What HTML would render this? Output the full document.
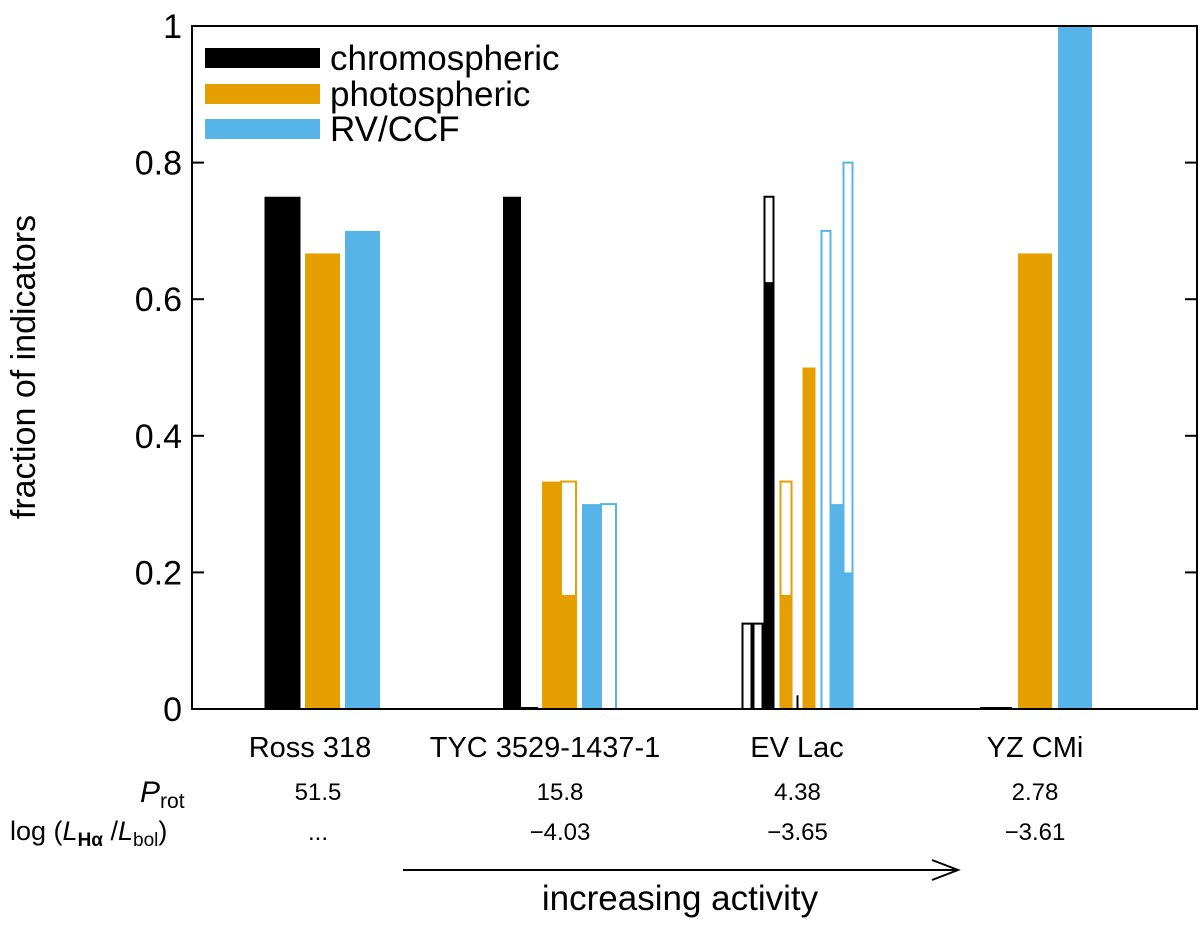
<!DOCTYPE html>
<html><head><meta charset="utf-8"><style>
body{margin:0;background:#fff}
svg text{font-family:"Liberation Sans",sans-serif;fill:#000}
</style></head><body>
<svg id="c" width="1200" height="927" xmlns="http://www.w3.org/2000/svg"></svg>
<script>
const categories=["Ross 318","TYC 3529-1437-1","EV Lac","YZ CMi"];
const prot=["51.5","15.8","4.38","2.78"];
const logHa=["...","\u22124.03","\u22123.65","\u22123.61"];
const yTicks=[0,0.2,0.4,0.6,0.8,1];
const yTickLabels=["0","0.2","0.4","0.6","0.8","1"];
// bar sub-elements per group: series, filled value, outlined value
const barGroup=[0,0,0, 1,1,1,1,1,1, 2,2,2,2,2,2,2,2,2, 3,3,3];
const barSeries=["chromo","photo","rv", "chromo","chromo","photo","photo","rv","rv", "chromo","chromo","chromo","photo","chromo","photo","rv","rv","rv", "chromo","photo","rv"];
const barFilled=[0.75,0.667,0.70, 0.75,0,0.333,0.167,0.30,0, 0,0,0.625,0.167,0.02,0.5,0,0.30,0.20, 0,0.667,1.0];
const barOutline=[0,0,0, 0,0,0,0.333,0,0.30, 0.125,0.125,0.75,0.333,0,0,0.70,0,0.80, 0,0,0];
// layout: left/right pixel offsets of each sub-bar relative to group center
const offL=[-58,-17.5,22.5, -57,-39,-18,0,22,40, -56,-45,-34,-18,-1,5,23,34,45, -55,-17,23];
const offR=[-22,17.5,57.5, -39,-22,0,17,40,57, -45,-34,-23,-5,1,18,34,45,56, -23,17,57];
const colors={chromo:"#000",photo:"#e69f00",rv:"#56b4e9"};
const L=192,R=1197,T=26,B=709;
const y=v=>B-(B-T)*v;
const xc=i=>322.5+237.5*i;
const svg=document.getElementById('c');
const NS="http://www.w3.org/2000/svg";
function mk(tag,a,parent){const e=document.createElementNS(NS,tag);for(const k in a)e.setAttribute(k,a[k]);(parent||svg).appendChild(e);return e;}
for(let i=0;i<barGroup.length;i++){
  const g=barGroup[i];
  const x0=xc(g)+offL[i], w=offR[i]-offL[i];
  const col=colors[barSeries[i]];
  if(barOutline[i]>0){
    const r=mk('rect',{x:x0+1,y:y(barOutline[i]),width:w-2,height:B-y(barOutline[i]),fill:'#fff',stroke:col,'stroke-width':2});
    
    
  }
  if(barFilled[i]>0){
    const r=mk('rect',{x:x0,y:y(barFilled[i]),width:w,height:B-y(barFilled[i]),fill:col});
    
    
  } else if(barOutline[i]===0){
    mk('line',{x1:x0,x2:x0+w,y1:B-1,y2:B-1,stroke:col,'stroke-width':2});
  }
}
const f=mk('rect',{x:L,y:T,width:R-L,height:B-T,fill:'none',stroke:'#000','stroke-width':2});

yTicks.forEach((v,i)=>{
  mk('line',{x1:L,x2:L+12,y1:y(v),y2:y(v),stroke:'#000','stroke-width':2});
  mk('line',{x1:R-12,x2:R,y1:y(v),y2:y(v),stroke:'#000','stroke-width':2});
  const t=mk('text',{x:182,y:y(v)+12,'text-anchor':'end','font-size':34});
  t.textContent=yTickLabels[i];
  
});
const labX=[310,545,797,1035];
categories.forEach((c,i)=>{
  const t=mk('text',{x:labX[i],y:757,'text-anchor':'middle','font-size':29});t.textContent=c;
  
  const vx=(i===0?318:xc(i));
  const p=mk('text',{x:vx,y:800,'text-anchor':'middle','font-size':24});p.textContent=prot[i];
  
  const l=mk('text',{x:vx,y:840,'text-anchor':'middle','font-size':24});l.textContent=logHa[i];
  
});
</script>
<svg width="1200" height="927" style="position:absolute;left:0;top:0" xmlns="http://www.w3.org/2000/svg">
<g font-family="Liberation Sans, sans-serif" font-size="35">
<rect x="205" y="48" width="115" height="20" fill="#000"/>
<text x="330" y="70">chromospheric</text>
<rect x="205" y="84" width="115" height="20" fill="#e69f00"/>
<text x="330" y="106">photospheric</text>
<rect x="205" y="119" width="115" height="20" fill="#56b4e9"/>
<text x="330" y="141">RV/CCF</text>
</g>
<text x="0" y="0" transform="translate(35,367) rotate(-90)" text-anchor="middle" font-size="34" font-family="Liberation Sans, sans-serif">fraction of indicators</text>
<text x="140" y="802" font-size="30" font-style="italic" font-family="Liberation Sans, sans-serif">P<tspan font-size="21" font-style="normal" dy="6">rot</tspan></text>
<text x="10" y="840" font-size="27" font-family="Liberation Sans, sans-serif">log (<tspan font-style="italic">L</tspan><tspan font-size="19" dy="6" font-weight="bold">Hα</tspan><tspan dy="-6"> /</tspan><tspan font-style="italic">L</tspan><tspan font-size="19" dy="6">bol</tspan><tspan dy="-6">)</tspan></text>
<g>
<line x1="403" y1="870" x2="958" y2="870" stroke="#000" stroke-width="2"/>
<polyline points="932,860 958,870 932,880" fill="none" stroke="#000" stroke-width="2"/>
</g>
<text x="680" y="910" text-anchor="middle" font-size="35" font-family="Liberation Sans, sans-serif">increasing activity</text>
</svg>
</body></html>
